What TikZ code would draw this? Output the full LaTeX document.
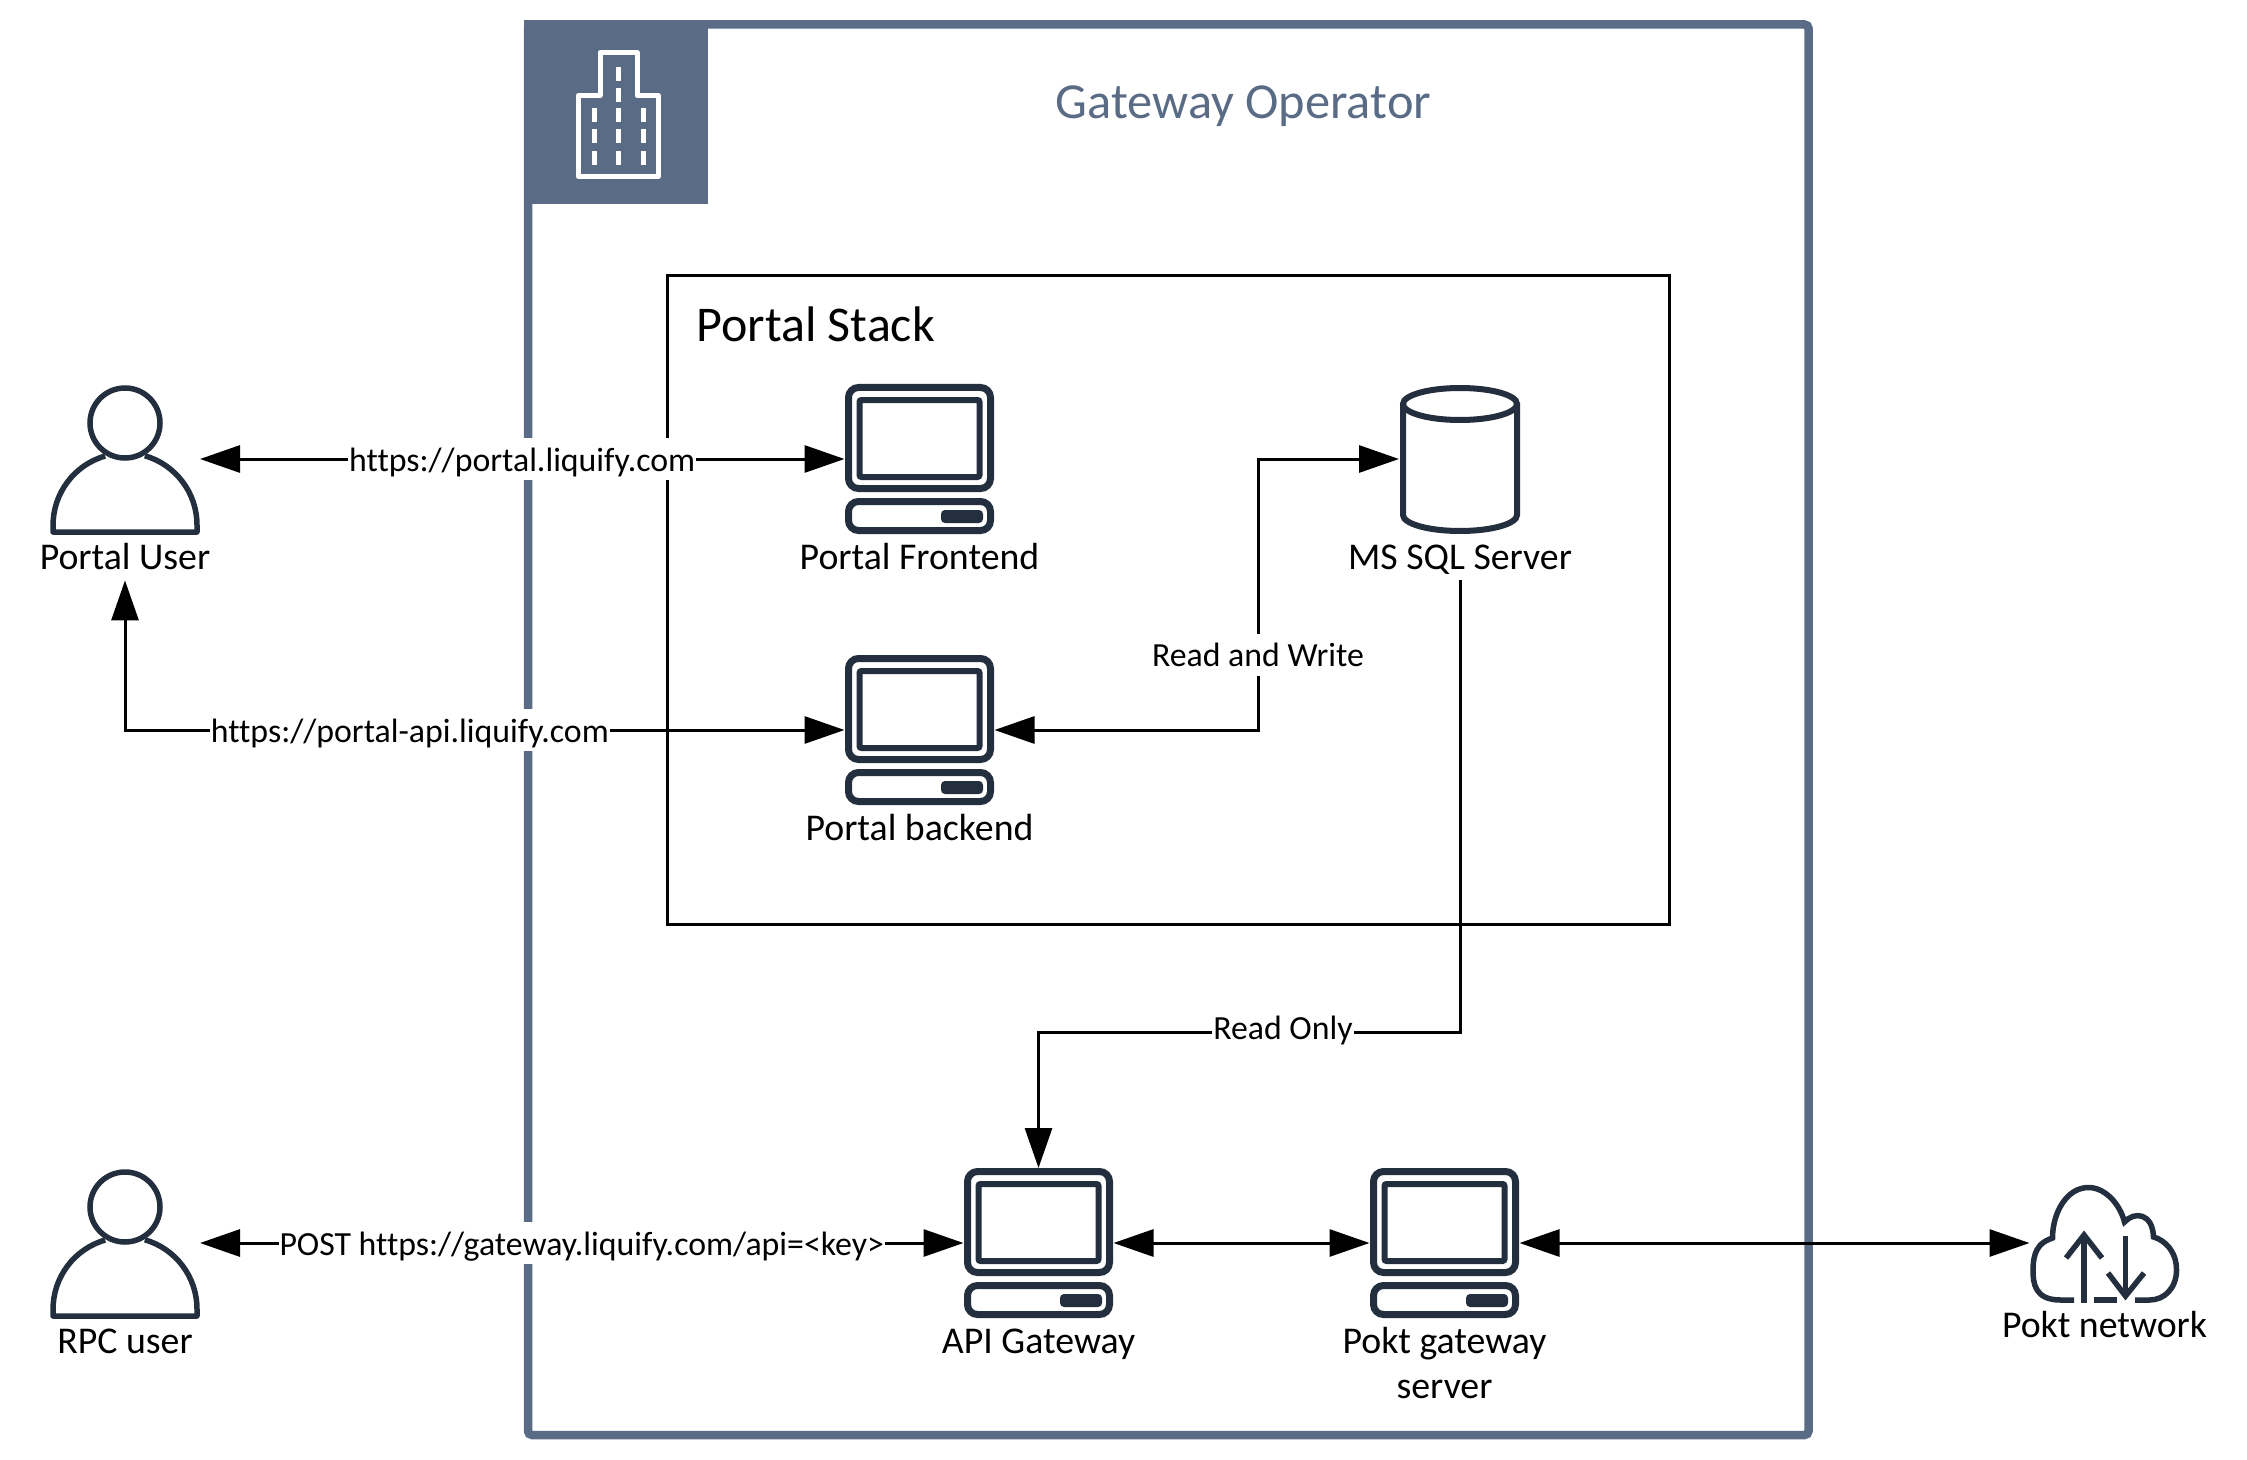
\documentclass[tikz,border=0pt]{standalone}
\usepackage{fontspec}
\setmainfont{Carlito}[Ligatures=NoCommon]
\usetikzlibrary{arrows.meta}

\definecolor{framecol}{HTML}{5A6B86}
\definecolor{iconcol}{HTML}{232F3E}

\tikzset{
computer/.pic={
  \draw[iconcol, line width=3.5pt, rounded corners=5pt] (-71,-71.5) rectangle (71,29.5);
  \draw[iconcol, line width=3pt, rounded corners=1pt] (-60,-59) rectangle (60,18);
  \draw[iconcol, line width=3.5pt, rounded corners=5pt] (-71,42.5) rectangle (71,71.5);
  \fill[iconcol, rounded corners=2pt] (21.5,51) rectangle (63.5,64);
},
person/.pic={
  \draw[iconcol, line width=2.75pt] (0,-36) circle [radius=35];
  \draw[iconcol, line width=2.75pt, line join=round] (-19.8,-3) arc [start angle=254, end angle=180, radius=72] -- (-72,73) -- (72,73) -- (72,66) arc [start angle=0, end angle=-74, radius=72];
},
database/.pic={
  \draw[iconcol, line width=3pt] (0,-55) ellipse [x radius=57, y radius=16];
  \draw[iconcol, line width=3pt] (-57,-55) -- (-57,56) arc [start angle=180, end angle=0, x radius=57, y radius=16] -- (57,-55);
},
cloudio/.pic={
  \draw[iconcol, line width=2.75pt] (-30.5,57) -- (-44,57) .. controls (-70,57) and (-71.5,40) .. (-71.5,27) .. controls (-71.5,2) and (-60,-2) .. (-52,-5) .. controls (-52,-30) and (-38,-55.5) .. (-16,-55.5) .. controls (0,-55.5) and (15,-40) .. (20,-21) .. controls (30,-32) and (48,-30) .. (49,-6) .. controls (60,-3) and (72,8) .. (72,27) .. controls (72,45) and (60,57) .. (45,57) -- (30.5,57);
  \draw[iconcol, line width=2.75pt] (-11,57) -- (12,57);
  \draw[iconcol, line width=2.75pt] (-20.5,60) -- (-20.5,-8);
  \draw[iconcol, line width=2.75pt] (-38.5,15) -- (-20.5,-8) -- (-2.5,15);
  \draw[iconcol, line width=2.75pt] (21,-7) -- (21,53);
  \draw[iconcol, line width=2.75pt] (3.5,30) -- (21,53) -- (39.5,30);
},
building/.pic={
  \draw[white, line width=2.5pt, line join=round] (-40,47.5) -- (-40,-33.5) -- (-18.5,-33.5) -- (-18.5,-76.5) -- (18.5,-76.5) -- (18.5,-33.5) -- (40,-33.5) -- (40,47.5) -- cycle;
  \foreach \yy in {-14,7.5,29.5}
    \foreach \xx in {-24.5,0,24.5}
      \fill[white] (\xx-2.5,\yy-7) rectangle (\xx+2.5,\yy+7);
  \foreach \yy in {-55,-33.5}
    \fill[white] (-2.5,\yy-7) rectangle (2.5,\yy+7);
}
}

\begin{document}
\begin{tikzpicture}
[
x=0.5pt, y=-0.5pt,
iconbox/.style={minimum width=75pt, minimum height=75pt, inner sep=0pt, outer sep=0pt},
caption/.style={font=\fontsize{18.9}{22.5}\selectfont, inner sep=0pt, text height=14.7pt, text depth=5.3pt, node distance=50.5pt},
linklabel/.style={fill=white, font=\fontsize{16.9}{18}\selectfont, inner sep=0.5pt, text height=16pt, text depth=4pt},
link/.style={line width=1.5pt, black, -{Triangle[length=20pt,width=13.5pt]}},
biglink/.style={line width=1.5pt, black, {Triangle[length=20pt,width=13.5pt]}-{Triangle[length=20pt,width=13.5pt]}}
]
\useasboundingbox (0,0) rectangle (2247,1460);

%Frames
\node[draw=framecol, line width=4.25pt, rounded corners=2pt, minimum width=640.25pt, minimum height=705.25pt, inner sep=0pt, outer sep=0pt, anchor=north west] (gateway) at (528,24.5) {};
\node[fill=framecol, minimum width=92pt, minimum height=92pt, inner sep=0pt, outer sep=0pt, anchor=north west] (header) at (524,20) {};
\pic at (618.5,129) {building};
\node[draw=black, line width=1.5pt, minimum width=501pt, minimum height=324pt, inner sep=0pt, outer sep=0pt, anchor=north west] (stack) at (667.5,276) {};
\node[text=framecol, font=\fontsize{25.2}{28}\selectfont] (gwtitle) at (1243.5,106) {Gateway Operator};
\node[font=\fontsize{25}{28}\selectfont, anchor=west, inner sep=0pt] (stacktitle) at (696,324) {Portal Stack};

%Nodes
\node[iconbox]  (user)     at (125,459)    {};
\node[iconbox]  (frontend) at (919.5,459)  {};
\node[iconbox]  (backend)  at (919.5,730)  {};
\node[iconbox, minimum width=61pt]  (sql)      at (1460,459)   {};
\node[iconbox]  (rpc)      at (125,1243)   {};
\node[iconbox]  (api)      at (1038.5,1243) {};
\node[iconbox]  (pgw)      at (1444.5,1243) {};
\node[iconbox]  (pokt)     at (2104.5,1243) {};
\pic at (user) {person};
\pic at (rpc) {person};
\pic at (frontend) {computer};
\pic at (backend) {computer};
\pic at (api) {computer};
\pic at (pgw) {computer};
\pic at (sql) {database};
\pic at (pokt) {cloudio};

\node[caption]  (userlabel)     [below of=user]     {Portal User};
\node[caption]  (frontendlabel) [below of=frontend] {Portal Frontend};
\node[caption]  (backendlabel)  [below of=backend]  {Portal backend};
\node[caption]  (sqllabel)      [below of=sql]      {MS SQL Server};
\node[caption]  (rpclabel)      [below of=rpc]      {RPC user};
\node[caption]  (apilabel)      [below of=api]      {API Gateway};
\node[font=\fontsize{18.9}{22.5}\selectfont, inner sep=0pt, align=center, node distance=60pt] (pgwlabel) [below of=pgw] {Pokt gateway\\server};
\node[caption, node distance=42.3pt]  (poktlabel)     [below of=pokt]     {Pokt network};

\coordinate (rwbend) at (1258,659);
\coordinate (robend) at (1460,1032);

%Lines
\draw[biglink] (user.east) -- node[linklabel, pos=0.5] {https://portal.liquify.com} (frontend.west);
\draw[biglink] (userlabel.south) |- node[linklabel, pos=0.698] {https://portal-api.liquify.com} (backend.west);
\draw[biglink] (backend.east) -- (backend.east -| rwbend) -- node[linklabel, pos=0.277] {Read and Write} (rwbend |- sql.west) -- (sql.west);
\draw[link] (sqllabel.south) -- (robend) -- node[linklabel, pos=0.42, yshift=2.15pt] {Read Only} (robend -| api.north) -- (api.north);
\draw[biglink] (rpc.east) -- node[linklabel, pos=0.5] {POST https://gateway.liquify.com/api=<key>} (api.west);
\draw[biglink] (api.east) -- (pgw.west);
\draw[biglink] (pgw.east) -- (pokt.west);
\end{tikzpicture}
\end{document}
